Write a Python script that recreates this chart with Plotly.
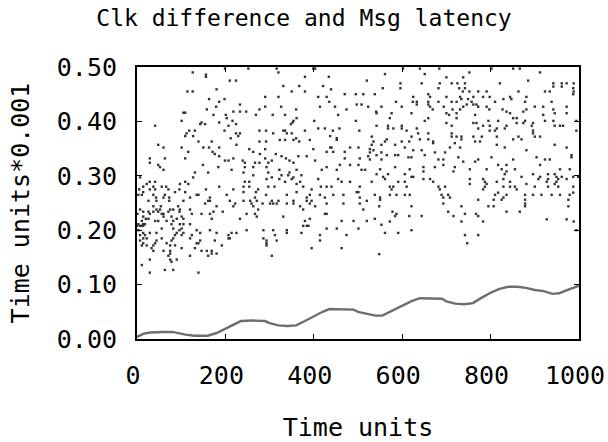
import plotly.graph_objects as go

# ---- Message latency dots, read row by row: one latency level, list of times ----
latency_levels = [
    0.497, 0.490, 0.486, 0.482, 0.475, 0.465, 0.459, 0.455, 0.450, 0.445, 0.441, 0.436, 0.431, 0.427,
    0.422, 0.418, 0.416, 0.412, 0.406, 0.401, 0.398, 0.395, 0.392, 0.387, 0.383, 0.378, 0.373, 0.369,
    0.366, 0.363, 0.357, 0.352, 0.349, 0.344, 0.340, 0.336, 0.332, 0.328, 0.324, 0.320, 0.316, 0.311,
    0.306, 0.301, 0.297, 0.294, 0.289, 0.285, 0.280, 0.275, 0.270, 0.265, 0.260,
    0.497, 0.490, 0.487, 0.481, 0.475, 0.470, 0.464, 0.461, 0.455, 0.450, 0.445, 0.441, 0.436, 0.431,
    0.427, 0.422, 0.418, 0.415, 0.412, 0.406, 0.401, 0.397, 0.392, 0.387, 0.383, 0.378, 0.372, 0.367,
    0.363, 0.360, 0.357, 0.352, 0.347, 0.343, 0.338, 0.334, 0.330, 0.326, 0.320, 0.316, 0.312, 0.308,
    0.303, 0.298, 0.294, 0.289, 0.285, 0.280, 0.275, 0.269, 0.265, 0.260, 0.256,
    0.254, 0.249, 0.244, 0.238, 0.234, 0.230, 0.225, 0.221, 0.217, 0.211, 0.208, 0.203, 0.200, 0.195,
    0.191, 0.185, 0.181, 0.176, 0.172, 0.167, 0.162, 0.157, 0.153, 0.146, 0.142, 0.136, 0.127, 0.122,
    0.249, 0.244, 0.234, 0.230, 0.226, 0.220, 0.216, 0.210, 0.200, 0.195, 0.191, 0.176, 0.156,
]
latency_times = [
    [199, 252, 316, 399, 403], [126, 320], [156], [156, 380, 434], [210, 224, 520], [331, 367, 421],
    [180, 439], [114, 126, 350, 380], [470, 495, 512], [290, 320, 410, 429], [163, 198], [186, 435],
    [233, 497, 508], [179, 290, 326, 414, 448, 523], [158, 277, 360, 474], [218, 233, 247], [105, 109],
    [173, 201, 269, 307, 335, 455], [203, 361], [101, 216, 354, 401, 495], [146, 186, 352],
    [143, 154, 224, 348], [41, 207], [410, 425, 458], [118, 131, 198, 277, 292, 331, 335, 380, 443, 503],
    [112, 224, 233, 308, 339, 350], [109, 127, 229, 437], [212, 360, 452], [323, 335, 354, 391, 452],
    [139, 169, 277, 292, 367], [48, 225, 531], [60, 101, 150, 163, 186, 437, 440, 482, 501],
    [254, 290, 399, 527], [116, 171, 263, 429, 444, 470], [176, 278, 314], [186, 327, 365, 384, 523],
    [29, 63, 109, 218, 290, 337, 470, 504], [199, 207, 239, 305, 345, 403], [29, 244, 267, 277, 297, 354],
    [48, 149, 459, 482, 501], [52, 184, 244, 263, 293, 429], [60, 214, 322, 361, 418, 452, 508, 516],
    [131, 161, 241, 297, 345], [263, 327, 342, 372], [7, 127, 305, 354], [293, 322, 350, 410, 455],
    [29, 41, 109, 244, 254, 335, 369, 463, 482], [22, 97, 116, 361],
    [14, 37, 56, 66, 186, 241, 254, 297, 311, 376, 416, 429, 440, 504],
    [5, 29, 41, 71, 96, 156, 218, 274, 395], [14, 86, 109, 241, 269, 361, 497, 501],
    [3, 11, 37, 63, 135, 139, 203, 292, 339, 391, 414, 444, 467], [43, 60, 73, 120, 165, 267, 384, 425, 504],
    [602, 640, 684, 802, 851, 866], [752, 912], [561, 651], [700, 738], [885],
    [596, 644, 685, 712, 725, 742, 821, 942, 961, 972, 988], [942, 961], [556, 596, 682, 729, 742, 987],
    [737, 752, 772, 791, 863, 923, 934, 988], [538, 659, 987], [625, 663, 700, 731, 761, 783, 798, 844, 881],
    [734, 749, 829, 847], [586, 624, 633, 659, 682, 712, 723, 757, 810, 878, 938], [633, 659, 746, 761, 768],
    [553, 599, 663, 694, 738, 772, 791, 900, 919, 972], [669, 714, 731, 797, 827, 881, 942], [541, 836, 874],
    [542, 576, 621, 700, 723, 844, 945, 972], [706, 765, 919], [572, 659, 723, 851, 859],
    [651, 795, 817, 878, 923, 942, 994], [700, 761, 768, 859, 874, 896],
    [542, 568, 599, 712, 783, 798, 836, 893, 945, 957, 964], [568, 580, 599, 633, 772, 814, 832],
    [610, 798, 810, 896, 994], [636, 659, 712, 896], [531, 621, 712, 723, 734, 761, 780, 814, 863, 900, 912],
    [565, 640, 659, 734, 851, 870], [535, 561, 599, 616, 670, 765, 776], [670, 719], [553, 584, 814, 945],
    [606, 708, 731, 832, 972], [535, 625, 644, 881], [527, 553, 674, 697], [542, 565, 584, 591, 651, 983],
    [614, 621, 727, 802, 904, 983], [527, 553, 682, 693, 772, 851, 923, 934], [738, 765], [693, 817, 836, 912],
    [584, 648, 674, 719], [550, 617, 753, 791, 825, 855, 957, 979], [648, 716, 836],
    [542, 568, 606, 832, 896, 930, 945], [557, 621, 625, 870, 912, 949, 961, 987, 998],
    [561, 648, 663, 753, 783, 829, 908, 930, 953, 972], [531, 591, 606, 670, 787, 814, 844, 927, 949],
    [753, 791, 881, 945], [572, 580, 610, 682, 697, 787, 829, 844, 855, 900, 930, 953, 987],
    [576, 685, 783, 859], [817, 987],
    [538, 572, 587, 606, 617, 689, 704, 810, 836, 878, 896, 915, 938, 957, 979], [550, 693, 708, 829],
    [550, 772, 807, 825, 878, 976],
    [26, 44, 73, 105, 161, 165, 210, 241, 256, 271, 305, 320, 354, 384, 395, 520],
    [154, 222, 259, 284, 301, 308, 316, 339, 354, 391, 429, 467, 504],
    [37, 54, 93, 180, 218, 263, 369, 403], [7, 44, 52, 75, 82, 97, 120, 274, 376, 512],
    [14, 26, 37, 48, 71, 96, 173, 194], [1, 29, 56, 60, 124, 146, 165, 248, 267, 425, 429],
    [14, 60, 78, 101, 271, 331], [20, 26, 90, 105, 169, 233, 391, 538],
    [11, 41, 48, 67, 82, 380, 463, 490, 520], [3, 14, 18, 78, 97, 105, 120], [0, 7, 11, 14, 376, 384, 388],
    [56, 82, 101, 429, 452, 501], [3, 96, 135, 165, 248, 286, 308, 339],
    [14, 29, 44, 90, 105, 143, 180, 214, 225, 339, 372], [7, 18, 86, 101, 124, 207, 312, 414, 474],
    [14, 22, 56, 82, 120, 207, 210, 286], [7, 44, 78, 143, 176, 293, 316, 414], [14, 41, 67, 135, 139, 293],
    [11, 22, 37, 75, 86, 192, 293], [33, 101, 131, 395, 463], [37, 60, 75, 146, 158, 169], [75, 169, 180],
    [71, 120, 161, 305], [29, 75, 90], [78], [11], [63, 82], [29, 139],
    [693, 878], [548, 621, 734, 795, 807, 878, 976], [578, 704, 836, 866], [587, 742, 767],
    [584, 616, 644, 716, 772], [927, 972], [572, 734, 783, 988], [553], [621, 994], [561, 591], [742, 772],
    [747], [548],
]

# ---- Clock difference curve ----
clk_t = [0, 15, 30, 45, 60, 80, 95, 110, 130, 160, 180, 200, 220, 235, 260, 290, 300, 320, 340, 360,
         380, 400, 420, 435, 460, 490, 500, 520, 540, 555, 575, 600, 620, 640, 660, 690, 700, 720, 740,
         760, 780, 800, 820, 840, 860, 880, 900, 920, 940, 955, 970, 985, 1000]
clk_v = [0.004, 0.010, 0.012, 0.013, 0.013, 0.013, 0.010, 0.008, 0.006, 0.006, 0.011, 0.019, 0.027,
         0.033, 0.034, 0.033, 0.029, 0.025, 0.024, 0.025, 0.033, 0.042, 0.050, 0.055, 0.055, 0.054, 0.050,
         0.046, 0.043, 0.043, 0.051, 0.060, 0.069, 0.075, 0.075, 0.074, 0.069, 0.065, 0.064, 0.066, 0.076,
         0.085, 0.092, 0.096, 0.096, 0.094, 0.090, 0.088, 0.083, 0.084, 0.089, 0.094, 0.098]

x_ticks = [0, 200, 400, 600, 800, 1000]
y_ticks = [0.0, 0.1, 0.2, 0.3, 0.4, 0.5]

dot_x, dot_y = [], []
for lvl, times in zip(latency_levels, latency_times):
    for t in times:
        dot_x.append(t)
        dot_y.append(lvl)

FONT = "DejaVu Sans Mono"

fig = go.Figure()
fig.add_trace(go.Scatter(x=dot_x, y=dot_y, mode="markers",
                         marker=dict(symbol="square", size=2.4, color="#333333", line=dict(width=0)),
                         showlegend=False, hoverinfo="skip", cliponaxis=True))
fig.add_trace(go.Scatter(x=clk_t, y=clk_v, mode="lines", line=dict(color="#6e6e6e", width=2.4),
                         showlegend=False))

fig.update_layout(
    width=608, height=442,
    margin=dict(l=137, r=29, t=67, b=103, autoexpand=False),
    paper_bgcolor="white", plot_bgcolor="white",
    font=dict(family=FONT, size=25, color="black"),
    title=dict(text="Clk difference and Msg latency", x=0.5, xref="container", xanchor="center",
               y=1 - 18 / 442, yref="container", yanchor="middle", font=dict(family=FONT, size=23),
               automargin=False),
    showlegend=False,
)
fig.update_xaxes(range=[0, 1000], tickvals=x_ticks, ticktext=[str(v) for v in x_ticks],
                 ticks="inside", ticklen=5, tickwidth=1, tickcolor="black", mirror="ticks",
                 showline=True, linecolor="black", linewidth=2, showgrid=False, zeroline=False,
                 ticklabelstandoff=13, ticklabelshift=-4, automargin=False, ticklabeloverflow="allow",
                 title=dict(text="Time units", standoff=30, font=dict(size=25)))
fig.update_yaxes(range=[0, 0.5], tickvals=y_ticks, ticktext=[f"{v:.2f}" for v in y_ticks],
                 ticks="inside", ticklen=5, tickwidth=1, tickcolor="black", mirror="ticks",
                 showline=True, linecolor="black", linewidth=2, showgrid=False, zeroline=False,
                 ticklabelstandoff=13, automargin=False, ticklabeloverflow="allow",
                 title=dict(text="Time units*0.001", standoff=20, font=dict(size=25)))

# remove the browser's default 8px page margin so the 608x442 figure fills the window
fig.write_html("out.html",
               config={"displayModeBar": False, "staticPlot": True},
               post_script="document.body.style.margin='0';document.body.style.overflow='hidden';")
